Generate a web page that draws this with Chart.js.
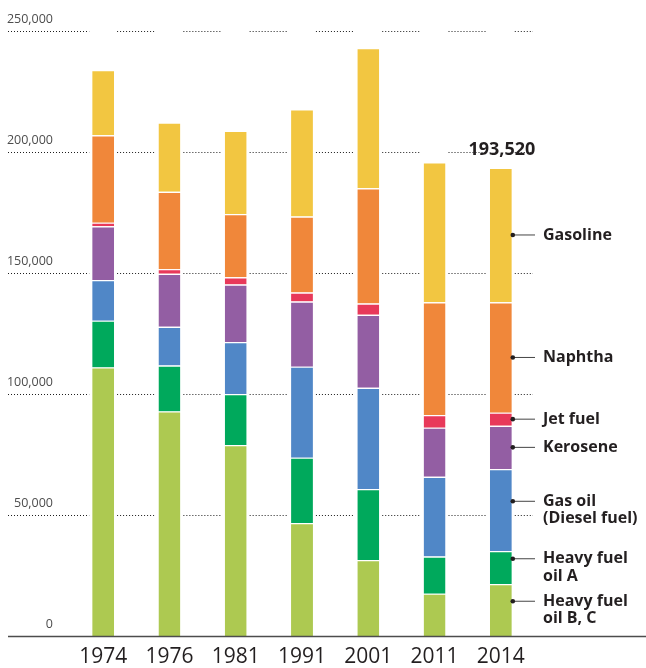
<!DOCTYPE html>
<html>
<head>
<meta charset="utf-8">
<script src="https://cdn.jsdelivr.net/npm/chart.js@4.4.1/dist/chart.umd.min.js"></script>
<style>
  html, body { margin: 0; padding: 0; background: #ffffff; }
  #wrap { width: 646px; height: 668px; position: relative; }
</style>
</head>
<body>
<div id="wrap"><canvas id="c" width="646" height="668"></canvas></div>
<script>
// ---- Data ----
const years = ['1974', '1976', '1981', '1991', '2001', '2011', '2014'];
const heavyFuelOilBC = [111000, 92800, 78900, 46700, 31400, 17500, 21500];
const heavyFuelOilA  = [19300, 19000, 21100, 27000, 29300, 15300, 13600];
const gasOil         = [16800, 16000, 21500, 37600, 41900, 33000, 33900];
const kerosene       = [22200, 21900, 23700, 26900, 30100, 20300, 17900];
const jetFuel        = [1500, 1900, 3000, 3700, 4700, 5200, 5400];
const naphtha        = [36100, 32000, 26200, 31400, 47600, 46600, 45600];
const gasoline       = [27000, 28600, 34400, 44300, 58000, 57800, 55620];

const seriesNames = ['Heavy fuel oil B, C', 'Heavy fuel oil A', 'Gas oil (Diesel fuel)', 'Kerosene', 'Jet fuel', 'Naphtha', 'Gasoline'];
const seriesLabelLines = [['Heavy fuel', 'oil B, C'], ['Heavy fuel', 'oil A'], ['Gas oil', '(Diesel fuel)'], ['Kerosene'], ['Jet fuel'], ['Naphtha'], ['Gasoline']];
const seriesColors = ['#adc951', '#00a95c', '#5087c7', '#935ea3', '#e8395a', '#f0873a', '#f2c641'];
const seriesValues = [heavyFuelOilBC, heavyFuelOilA, gasOil, kerosene, jetFuel, naphtha, gasoline];

const yTickValues = [0, 50000, 100000, 150000, 200000, 250000];
const yTickLabels = ['0', '50,000', '100,000', '150,000', '200,000', '250,000'];
const totalLabel = '193,520';

Chart.defaults.font.family = "'Open Sans', 'Noto Sans', sans-serif";

const decorPlugin = {
  id: 'decor',
  beforeDatasetsDraw(chart) {
    const ctx = chart.ctx;
    const y = chart.scales.y;
    const meta = chart.getDatasetMeta(0);
    const gaps = meta.data.map(el => [el.x - el.width / 2 - 3, el.x + el.width / 2 + 3]);
    ctx.save();
    // dotted gridlines, broken around bars
    ctx.strokeStyle = '#1e1e1e';
    ctx.lineWidth = 1;
    ctx.setLineDash([1, 2]);
    yTickValues.forEach(v => {
      if (v === 0) return;
      const py = Math.round(y.getPixelForValue(v)) + 0.5;
      let x0 = 8;
      const xEnd = 533;
      gaps.forEach(g => {
        if (g[0] > x0) {
          ctx.beginPath(); ctx.moveTo(x0, py); ctx.lineTo(Math.min(g[0], xEnd), py); ctx.stroke();
        }
        x0 = g[1];
      });
      if (x0 < xEnd) { ctx.beginPath(); ctx.moveTo(x0, py); ctx.lineTo(xEnd, py); ctx.stroke(); }
    });
    ctx.setLineDash([]);
    // y tick labels above the lines
    ctx.fillStyle = '#4d4d4d';
    ctx.font = "12.5px 'Open Sans', sans-serif";
    ctx.textAlign = 'right';
    ctx.textBaseline = 'middle';
    yTickValues.forEach((v, i) => {
      const py = y.getPixelForValue(v);
      ctx.fillText(yTickLabels[i], 53, py - 12);
    });
    ctx.restore();
  },
  afterDatasetsDraw(chart) {
    const ctx = chart.ctx;
    const x = chart.scales.x;
    const y = chart.scales.y;
    ctx.save();
    // baseline
    const by = Math.round(y.getPixelForValue(0)) + 0.5;
    ctx.strokeStyle = '#4d4d4d';
    ctx.lineWidth = 1.3;
    ctx.beginPath(); ctx.moveTo(8, by); ctx.lineTo(646, by); ctx.stroke();

    // x labels
    ctx.fillStyle = '#231f20';
    ctx.font = "21px 'Open Sans', sans-serif";
    ctx.textAlign = 'center';
    ctx.textBaseline = 'middle';
    years.forEach((yr, i) => {
      ctx.fillText(yr, x.getPixelForValue(i), 657);
    });

    // total label above last bar
    const last = years.length - 1;
    const topMeta = chart.getDatasetMeta(seriesValues.length - 1);
    const topEl = topMeta.data[last];
    ctx.font = "bold 18px 'Open Sans', sans-serif";
    ctx.fillText(totalLabel, topEl.x + 1, topEl.y - 18);

    // series labels on the right of the last bar
    ctx.font = "bold 16px 'Open Sans', sans-serif";
    ctx.textAlign = 'left';
    const lh = 17.5;
    seriesValues.forEach((s, d) => {
      const el = chart.getDatasetMeta(d).data[last];
      const mid = (el.y + el.base) / 2;
      const lines = seriesLabelLines[d];
      const firstY = mid - (lines.length - 1) * lh / 2;
      const dx = el.x + el.width / 2 + 1;
      ctx.strokeStyle = '#444444';
      ctx.lineWidth = 1;
      ctx.beginPath(); ctx.moveTo(dx, firstY); ctx.lineTo(535, firstY); ctx.stroke();
      ctx.fillStyle = '#231f20';
      ctx.beginPath(); ctx.arc(dx, firstY, 2.3, 0, Math.PI * 2); ctx.fill();
      lines.forEach((t, k) => ctx.fillText(t, 543, firstY + k * lh));
    });
    ctx.restore();
  }
};

new Chart(document.getElementById('c'), {
  type: 'bar',
  data: {
    labels: years,
    datasets: seriesValues.map((vals, i) => ({
      label: seriesNames[i],
      data: vals,
      backgroundColor: seriesColors[i],
      borderColor: '#ffffff',
      borderWidth: { top: 1.2, bottom: 0, left: 0, right: 0 },
      borderSkipped: false,
      categoryPercentage: 1,
      barPercentage: 0.33
    }))
  },
  options: {
    responsive: false,
    animation: false,
    devicePixelRatio: 1,
    layout: { padding: { left: 70, right: 112, top: 31, bottom: 32 } },
    plugins: { legend: { display: false }, tooltip: { enabled: false } },
    scales: {
      x: { stacked: true, display: false },
      y: { stacked: true, display: false, min: 0, max: 250000 }
    }
  },
  plugins: [decorPlugin]
});
</script>
</body>
</html>
